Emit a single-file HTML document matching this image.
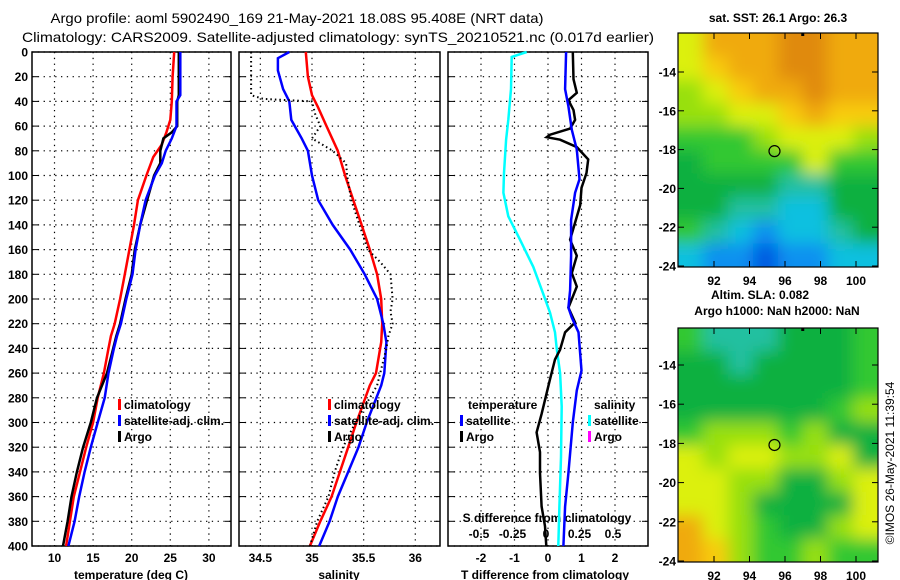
<!DOCTYPE html>
<html><head><meta charset="utf-8"><style>
html,body{margin:0;padding:0;background:#fff;}
svg{display:block;font-family:"Liberation Sans",sans-serif;}
.tk{font-size:12px;font-weight:bold;fill:#000;}
</style></head><body>
<svg id="fig" width="900" height="580" viewBox="0 0 900 580" xmlns="http://www.w3.org/2000/svg">
<defs>
<filter id="blur1" filterUnits="userSpaceOnUse" x="650" y="0" width="250" height="580"><feGaussianBlur stdDeviation="8"/></filter>
<clipPath id="cm1"><rect x="678" y="33" width="200" height="234"/></clipPath>
<clipPath id="cm2"><rect x="678" y="328" width="200" height="234"/></clipPath>
</defs>
<text x="297" y="23" text-anchor="middle" font-size="14" textLength="493" lengthAdjust="spacingAndGlyphs">Argo profile: aoml 5902490_169 21-May-2021 18.08S 95.408E (NRT data)</text>
<text x="338" y="42" text-anchor="middle" font-size="14" textLength="632" lengthAdjust="spacingAndGlyphs">Climatology: CARS2009. Satellite-adjusted climatology: synTS_20210521.nc (0.017d earlier)</text>
<g id="layer"></g>
</svg>
<script>
// ---- data ----
const depthTicks = [0,20,40,60,80,100,120,140,160,180,200,220,240,260,280,300,320,340,360,380,400];
const tempTicks = [10,15,20,25,30];
const salTicks = [34.5,35,35.5,36];
const dtTicks = [-2,-1,0,1,2];
const dsTicks = [-0.5,-0.25,0,0.25,0.5];
const dsTickLabels = ["-0.5","-0.25","0","0.25","0.5"];

const tArgoDepth = [0,35,40,60,65,70,80,90,100,120,140,160,180,200,220,230,240,260,280,300,320,340,360,380,400];
const tArgo      = [26.1,26.1,25.9,25.9,25.2,24.1,23.7,23.7,22.9,22.0,21.1,20.4,20.0,19.2,18.5,18.0,17.6,16.8,15.5,14.7,13.7,12.9,12.2,11.7,11.1];
const tSatDepth = [0,35,40,60,70,80,90,100,120,140,160,180,200,220,230,240,260,280,300,320,340,360,380,400];
const tSat      = [26.3,26.3,25.8,25.8,25.2,24.4,23.9,23.0,21.8,21.1,20.5,20.1,19.3,18.6,18.1,17.7,17.0,16.5,15.6,14.7,13.9,13.2,12.6,11.8];
const tClimDepth = [0,20,40,55,65,75,85,100,120,140,160,180,200,220,230,240,260,280,300,320,340,360,380,400];
const tClim      = [25.5,25.3,25.2,25.0,24.5,23.9,22.8,21.9,20.8,20.3,19.7,19.1,18.5,17.8,17.3,17.0,16.4,15.6,15.0,14.1,13.3,12.5,12.0,11.5];

const sClimDepth = [0,20,35,45,60,80,100,120,140,160,180,200,220,235,260,270,300,320,340,360,380,400];
const sClim      = [34.94,34.96,35.0,35.06,35.14,35.25,35.32,35.40,35.48,35.56,35.63,35.67,35.68,35.67,35.62,35.56,35.43,35.35,35.27,35.19,35.08,34.98];
const sSatDepth = [0,5,15,30,40,55,70,80,100,120,140,160,180,200,220,235,260,270,300,320,340,360,380,400];
const sSat      = [34.78,34.67,34.67,34.72,34.78,34.80,34.90,34.96,35.0,35.06,35.2,35.37,35.51,35.63,35.69,35.72,35.70,35.67,35.53,35.45,35.35,35.25,35.17,35.07];
const sArgoDepth = [0,35,38,40,50,60,70,80,90,100,120,140,160,170,180,200,210,220,230,240,270,300,320,340,360,380,400];
const sArgo      = [34.41,34.41,34.53,35.0,35.03,35.08,35.0,35.2,35.33,35.34,35.38,35.46,35.54,35.66,35.76,35.78,35.76,35.78,35.74,35.72,35.63,35.42,35.30,35.22,35.16,35.05,34.98];

const dsSatDepth = [0,4,30,55,71,98,114,133,152,174,196,211,227,240,260,287,328,368,400];
const dsSat      = [-0.159,-0.271,-0.276,-0.296,-0.313,-0.328,-0.333,-0.296,-0.209,-0.11,-0.035,0.015,0.052,0.065,0.09,0.102,0.097,0.085,0.077];
const dtSatDepth = [0,30,44,63,79,103,114,136,165,193,207,215,227,258,274,300,341,368,400];
const dtSat      = [0.54,0.51,0.61,0.71,0.86,0.94,0.81,0.69,0.69,0.66,0.61,0.71,0.91,1.0,0.86,0.74,0.61,0.51,0.46];
const dtArgoDepth = [0,22,33,39,47,55,62,67,69,71,77,87,98,110,124,152,165,179,190,207,219,227,241,249,265,276,293,308,324,341,368,384,400];
const dtArgo      = [0.74,0.76,0.86,0.61,0.76,0.81,0.66,0.06,-0.04,0.36,0.86,1.2,1.15,1.0,0.96,0.66,0.86,0.71,0.86,0.61,0.81,0.51,0.36,0.21,0.06,-0.04,-0.19,-0.34,-0.24,-0.24,-0.19,-0.09,-0.05];

const latTicks = [-14,-16,-18,-20,-22,-24];
const lonTicks = [92,94,96,98,100];
const sstGrid = ["yoooOOoo","yYooOOoo","lyYooOoo","llyyYoYY","ggglyyyl","Gggggygg","GGGGccGG","GGccCCGG","gcCbCCcG","CbbBbbCC"];
const slaGrid = ["gcccGGGg","GGcGGGGg","GGGGGGGg","GGGGGGgl","glllglGG","ylyyllyG","yyllGGly","yylGGGGy","oylgGGly","oYlgglgg"];
const palette = {O:"#e08a10",o:"#f0aa10",Y:"#f8cc10",y:"#dcf010",l:"#98e010",g:"#30c830",G:"#10b040",c:"#20c0a0",C:"#10c0e0",b:"#1090f0",B:"#0058e0"};
const argoLon = 95.408, argoLat = -18.08;

// ---- scales ----
const yD = d => 52 + d*1.235;
const xT = t => 54.5 + (t-10)*7.72;
const xS = s => 312 + (s-35)*103.3;
const xDT = v => 548 + v*33.5;
const xDS = v => 548 + v*134;
const mapX = lon => 714 + (lon-92)*17.75;
const map1Y = lat => 72 + (-14-lat)*19.4;
const map2Y = lat => 365 + (-14-lat)*19.6;

const NS="http://www.w3.org/2000/svg";
const L=document.getElementById('layer');
function mk(tag,attrs,parent){const e=document.createElementNS(NS,tag);for(const k in attrs)e.setAttribute(k,attrs[k]);(parent||L).appendChild(e);return e;}
function txt(x,y,s,cls,anchor,parent){const e=mk('text',{x:x,y:y,'text-anchor':anchor||'middle'},parent);if(cls)e.setAttribute('class',cls);e.textContent=s;return e;}

function profile(depths,vals,xf,color,dash,name){
  let d='';for(let i=0;i<depths.length;i++){d+=(i?'L':'M')+xf(vals[i]).toFixed(1)+' '+yD(depths[i]).toFixed(1);}
  const p=mk('path',{d:d,fill:'none',stroke:color,'stroke-width':dash?2:2.5,'stroke-dasharray':dash||'none'});
  
  
}
function panel(x0,x1,gridXs,name){
  const g=mk('g',{});
  
  
  gridXs.forEach(x=>mk('line',{x1:x,x2:x,y1:52,y2:546,stroke:'#000','stroke-width':1.2,'stroke-dasharray':'1.3 4.5'},g));
  depthTicks.forEach(d=>{mk('line',{x1:x0,x2:x1,y1:yD(d),y2:yD(d),stroke:'#000','stroke-width':1.2,'stroke-dasharray':'1.3 4.5'},g);
    mk('line',{x1:x0,x2:x0+6,y1:yD(d),y2:yD(d),stroke:'#000'},g);mk('line',{x1:x1-6,x2:x1,y1:yD(d),y2:yD(d),stroke:'#000'},g);});
  mk('rect',{x:x0,y:52,width:x1-x0,height:494,fill:'none',stroke:'#000','stroke-width':1.5},g);
  return g;
}
depthTicks.forEach(d=>{const t=txt(28,yD(d)+4.5,String(d),'tk','end');
  
  });

// Panel 1 temperature
panel(32,231,tempTicks.map(xT),'temperature-panel');
tempTicks.forEach(t=>{const e=txt(xT(t),562,String(t),'tk');
  
  });
profile(tClimDepth,tClim,xT,'#f00',null,'temperature-climatology-line');
profile(tArgoDepth,tArgo,xT,'#000',null,'temperature-argo-line');
profile(tSatDepth,tSat,xT,'#00f',null,'temperature-satellite-line');
let at=txt(131,579,'temperature (deg C)','tk');



// Panel 2 salinity
panel(239,440,salTicks.map(xS),'salinity-panel');
salTicks.forEach(s=>{const e=txt(xS(s),562,String(s),'tk');
  
  });
profile(sClimDepth,sClim,xS,'#f00',null,'salinity-climatology-line');
profile(sSatDepth,sSat,xS,'#00f',null,'salinity-satellite-line');
profile(sArgoDepth,sArgo,xS,'#000','1.5 3','salinity-argo-line');
at=txt(339,579,'salinity','tk');



function legend(x,y,items,name){
  const g=mk('g',{});
  
  
  items.forEach((it,i)=>{const yy=y+i*16;
    if(it[1])mk('rect',{x:x,y:yy-10,width:3,height:11,fill:it[1]},g);
    txt(x+(it[1]?6:0),yy,it[0],'tk','start',g);});
}
legend(118,409,[['climatology','#f00'],['satellite-adj. clim.','#00f'],['Argo','#000']],'temperature-legend');
legend(328,409,[['climatology','#f00'],['satellite-adj. clim.','#00f'],['Argo','#000']],'salinity-legend');

// Panel 3 differences
panel(448,648,dtTicks.map(xDT),'difference-panel');
dtTicks.forEach(v=>{const e=txt(xDT(v),562,String(v),'tk');
  
  });
dsTicks.forEach((v,i)=>{const e=txt(xDS(v)-2,538,dsTickLabels[i],'tk');
  
  });
at=txt(547,522,'S difference from climatology','tk');


profile(dsSatDepth,dsSat,xDS,'#0ff',null,'salinity-diff-satellite-line');
profile(dtArgoDepth,dtArgo,xDT,'#000',null,'temperature-diff-argo-line');
profile(dtSatDepth,dtSat,xDT,'#00f',null,'temperature-diff-satellite-line');
at=txt(545,579,'T difference from climatology','tk');


legend(468,409,[['temperature',null]],'diff-legend-temperature-header');
legend(460,425,[['satellite','#00f'],['Argo','#000']],'diff-legend-temperature');
legend(594,409,[['salinity',null]],'diff-legend-salinity-header');
legend(588,425,[['satellite','#0ff'],['Argo','#f0f']],'diff-legend-salinity');

// Maps
function map(grid,yf,top,clip,name){
  const g=mk('g',{});
  
  
  const cg=mk('g',{'clip-path':'url(#'+clip+')'},g);
  const inner=mk('g',{filter:'url(#blur1)'},cg);
  const cols=grid[0].length, rows=grid.length, cw=200/cols, ch=234/rows;
  for(let r=0;r<rows;r++)for(let c=0;c<cols;c++){
    const x=678+c*cw-(c==0?20:0), y=top+r*ch-(r==0?20:0);
    mk('rect',{x:x,y:y,width:cw+(c==0?20:0)+(c==cols-1?20:0)+0.5,height:ch+(r==0?20:0)+(r==rows-1?20:0)+0.5,fill:palette[grid[r][c]]},inner);
  }
  mk('rect',{x:678,y:top,width:200,height:234,fill:'none',stroke:'#000','stroke-width':1.2},g);
  latTicks.forEach(l=>{const y=yf(l);mk('line',{x1:678,x2:684,y1:y,y2:y,stroke:'#000'},g);mk('line',{x1:872,x2:878,y1:y,y2:y,stroke:'#000'},g);
    const t=txt(676,y+4.5,String(l),'tk','end',g);
    
    });
  lonTicks.forEach(l=>{const x=mapX(l);mk('line',{x1:x,x2:x,y1:top+234,y2:top+228,stroke:'#000'},g);mk('line',{x1:x,x2:x,y1:top,y2:top+6,stroke:'#000'},g);
    const t=txt(x,top+252,String(l),'tk','middle',g);
    
    });
  const c=mk('circle',{cx:mapX(argoLon),cy:yf(argoLat),r:5.5,fill:'none',stroke:'#000','stroke-width':1.2},g);
  
  
  mk('rect',{x:mapX(97)-1.5,y:top,width:3,height:3,fill:'#000'},g);
}
map(sstGrid,map1Y,33,'cm1','sst-map');
map(slaGrid,map2Y,328,'cm2','sla-map');
at=txt(778,22,'sat. SST: 26.1  Argo: 26.3','tk');


at=txt(760,299,'Altim. SLA: 0.082','tk');


at=txt(777,315,'Argo h1000: NaN h2000: NaN','tk');


const cr=mk('text',{x:0,y:0,'text-anchor':'middle','font-size':'12',transform:'translate(894,463) rotate(-90)'});
cr.textContent='©IMOS 26-May-2021 11:39:54';


</script>
</body></html>
